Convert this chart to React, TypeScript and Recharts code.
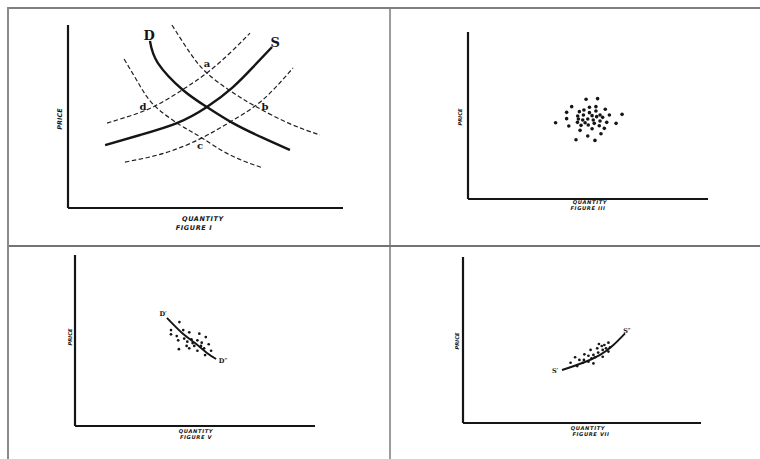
import React from 'react';
import { ComposedChart, Line, Scatter, XAxis, YAxis } from 'recharts';

// ---------- Figure I : shifting demand and supply ----------
const fig1Demand = [
  { x: 29.8, y: 91.3 }, { x: 32.7, y: 79.2 }, { x: 41.8, y: 64.5 }, { x: 50.5, y: 55.2 },
  { x: 60, y: 46.4 }, { x: 70.9, y: 38.3 }, { x: 80.7, y: 31.7 },
];
const fig1Supply = [
  { x: 13.5, y: 34.4 }, { x: 26.2, y: 39.9 }, { x: 39.6, y: 46.4 }, { x: 50.5, y: 55.2 },
  { x: 60, y: 66.1 }, { x: 67.3, y: 77 }, { x: 74.2, y: 88 },
];
const fig1DemandHigh = [
  { x: 37.8, y: 100 }, { x: 44.4, y: 84.7 }, { x: 50.5, y: 73.8 }, { x: 59, y: 64 },
  { x: 68, y: 55.7 }, { x: 80, y: 46.5 }, { x: 91.6, y: 39.9 },
];
const fig1DemandLow = [
  { x: 20.4, y: 81.4 }, { x: 26.2, y: 66.7 }, { x: 31.6, y: 55.7 }, { x: 40.7, y: 45.4 },
  { x: 48.7, y: 38.3 }, { x: 58.9, y: 29 }, { x: 70.9, y: 21.9 },
];
const fig1SupplyHigh = [
  { x: 14.2, y: 46.4 }, { x: 22.5, y: 50.3 }, { x: 31.6, y: 55.7 }, { x: 41.5, y: 64.5 },
  { x: 50.5, y: 73.8 }, { x: 58.9, y: 84.7 }, { x: 66.2, y: 95.6 },
];
const fig1SupplyLow = [
  { x: 20.7, y: 25.1 }, { x: 35.3, y: 30.1 }, { x: 48.7, y: 38.3 }, { x: 58.9, y: 47 },
  { x: 68, y: 55.7 }, { x: 75.3, y: 65.6 }, { x: 81.8, y: 76.5 },
];
const fig1BigLabels = [
  { x: 29.5, y: 94, t: 'D' },
  { x: 75.3, y: 90.7, t: 'S' },
];
const fig1SmallLabels = [
  { x: 50.5, y: 78.7, t: 'a' },
  { x: 71.6, y: 55.7, t: 'b' },
  { x: 48, y: 33.9, t: 'c' },
  { x: 27.3, y: 55.7, t: 'd' },
];

// ---------- Figure III : scattered observations ----------
const fig3Points = [
  { x: 49.2, y: 59.7 }, { x: 54.0, y: 60.1 }, { x: 43.2, y: 55.3 }, { x: 50.6, y: 54.9 },
  { x: 53.3, y: 55.3 }, { x: 41.1, y: 51.9 }, { x: 46.4, y: 52.3 }, { x: 48.3, y: 53.3 },
  { x: 50.6, y: 51.7 }, { x: 53.3, y: 52.7 }, { x: 57.2, y: 53.7 }, { x: 58.9, y: 50.3 },
  { x: 64.2, y: 50.7 }, { x: 45.7, y: 49.7 }, { x: 48.1, y: 50.3 }, { x: 51.7, y: 49.9 },
  { x: 53.6, y: 49.3 }, { x: 55, y: 50.3 }, { x: 56.1, y: 48.9 }, { x: 41.1, y: 48.1 },
  { x: 46, y: 47.9 }, { x: 47.8, y: 47.3 }, { x: 49.9, y: 47.9 }, { x: 52.2, y: 47.3 },
  { x: 45.6, y: 45.9 }, { x: 48.8, y: 45.7 }, { x: 50.1, y: 44.3 }, { x: 52.6, y: 45.3 },
  { x: 55, y: 46.7 }, { x: 57.8, y: 45.9 }, { x: 61.7, y: 45.3 }, { x: 36.5, y: 45.7 },
  { x: 42, y: 43.7 }, { x: 47.1, y: 44.1 }, { x: 51.7, y: 42.1 }, { x: 54.7, y: 43.9 },
  { x: 56.8, y: 42.3 }, { x: 46.7, y: 41.1 }, { x: 49.9, y: 37.7 }, { x: 55.4, y: 39.1 },
  { x: 45, y: 35.5 }, { x: 52.9, y: 35.1 },
];

// ---------- Figure V : demand curve fitted to points ----------
const fig5Curve = [
  { x: 38.3, y: 63.2 }, { x: 44.6, y: 54.4 }, { x: 50, y: 48.5 }, { x: 55, y: 42.7 }, { x: 58.8, y: 39.2 },
];
const fig5Points = [
  { x: 43.5, y: 60.8 }, { x: 40, y: 56.1 }, { x: 45.1, y: 56.1 }, { x: 47.6, y: 54.8 },
  { x: 51.8, y: 54 }, { x: 40, y: 53.6 }, { x: 42.4, y: 52.6 }, { x: 45.5, y: 51.1 },
  { x: 43, y: 50.1 }, { x: 48.5, y: 50.7 }, { x: 51, y: 50.1 }, { x: 54.5, y: 52 },
  { x: 46.8, y: 49.3 }, { x: 49, y: 48.5 }, { x: 52.8, y: 48.7 }, { x: 55.7, y: 47.8 },
  { x: 46.5, y: 46.8 }, { x: 49.7, y: 46.8 }, { x: 52.5, y: 46.8 }, { x: 53.8, y: 45.4 },
  { x: 43.3, y: 44.9 }, { x: 47.6, y: 45.4 }, { x: 51, y: 44 }, { x: 56.7, y: 44 },
  { x: 54.2, y: 41.5 },
];
const fig5Labels = [
  { x: 36.7, y: 65.5, t: 'D′' },
  { x: 61.7, y: 38, t: 'D″' },
];

// ---------- Figure VII : supply curve fitted to points ----------
const fig7Curve = [
  { x: 41.6, y: 31.9 }, { x: 50.5, y: 36.3 }, { x: 57.6, y: 41 }, { x: 63.2, y: 47 }, { x: 68.1, y: 54 },
];
const fig7Points = [
  { x: 57.1, y: 47.6 }, { x: 47.1, y: 39.6 }, { x: 53.6, y: 44 }, { x: 51, y: 41.4 },
  { x: 45.2, y: 36.3 }, { x: 48.9, y: 38 }, { x: 52.7, y: 40.5 }, { x: 54.8, y: 41 },
  { x: 56.4, y: 45 }, { x: 58.3, y: 46.4 }, { x: 59.4, y: 47 }, { x: 61.1, y: 48.4 },
  { x: 61.8, y: 45.6 }, { x: 58.7, y: 44 }, { x: 56.8, y: 42.4 }, { x: 55.5, y: 39.6 },
  { x: 58.7, y: 39.9 }, { x: 61.1, y: 43 }, { x: 50.3, y: 36.3 }, { x: 52.7, y: 36.9 },
  { x: 54.8, y: 35.9 }, { x: 48, y: 34.3 }, { x: 50.8, y: 38 }, { x: 54, y: 39 },
  { x: 60.1, y: 45 },
];
const fig7Labels = [
  { x: 38.7, y: 31.3, t: 'S′' },
  { x: 68.9, y: 55.4, t: 'S″' },
];

const axisTitles = {
  price: 'PRICE',
  quantity: 'QUANTITY',
  fig1: 'FIGURE I',
  fig3: 'FIGURE III',
  fig5: 'FIGURE V',
  fig7: 'FIGURE VII',
};

const INK = '#151515';
const TITLE_FONT = '"DejaVu Sans", sans-serif';

const dot = (r: number) => (p: any) => <circle cx={p.cx} cy={p.cy} r={r} fill={INK} />;

const textShape = (size: number, family: string, weight: string) => (p: any) => (
  <text
    x={p.cx}
    y={p.cy}
    textAnchor="middle"
    dominantBaseline="central"
    fontSize={size}
    fontFamily={family}
    fontWeight={weight}
    fill={INK}
  >
    {p.payload ? p.payload.t : p.t}
  </text>
);

type TitleSpec = {
  price: [number, number];
  qty: [number, number];
  fig: [number, number];
  figText: string;
  size: number;
};

const Frame = ({ width, height, margin, titles, children }: any) => {
  const t: TitleSpec = titles;
  return (
    <ComposedChart width={width} height={height} margin={margin}>
      <XAxis
        type="number"
        dataKey="x"
        domain={[0, 100]}
        allowDataOverflow
        height={1}
        tick={false}
        tickLine={false}
        axisLine={{ stroke: INK, strokeWidth: 2.2 }}
        label={{
          content: () => (
            <g>
              <text x={t.qty[0]} y={t.qty[1]} textAnchor="middle" dominantBaseline="central"
                fontSize={t.size} fontFamily={TITLE_FONT} fontWeight="bold" fontStyle="italic"
                letterSpacing={0.6} fill={INK}>{axisTitles.quantity}</text>
              <text x={t.fig[0]} y={t.fig[1]} textAnchor="middle" dominantBaseline="central"
                fontSize={t.size} fontFamily={TITLE_FONT} fontWeight="bold" fontStyle="italic"
                letterSpacing={0.6} fill={INK}>{t.figText}</text>
            </g>
          ),
        }}
      />
      <YAxis
        type="number"
        dataKey="y"
        domain={[0, 100]}
        allowDataOverflow
        width={1}
        tick={false}
        tickLine={false}
        axisLine={{ stroke: INK, strokeWidth: 2.2 }}
        label={{
          content: () => (
            <text x={t.price[0]} y={t.price[1]} textAnchor="middle" dominantBaseline="central"
              fontSize={t.size} fontFamily={TITLE_FONT} fontWeight="bold" fontStyle="italic"
              transform={`rotate(-90 ${t.price[0]} ${t.price[1]})`} fill={INK}>{axisTitles.price}</text>
          ),
        }}
      />
      {children}
    </ComposedChart>
  );
};

const dashed = { stroke: '#202020', strokeWidth: 1.2, strokeDasharray: '4.5 2.5' };

export default function App() {
  return (
    <div style={{ position: 'absolute', left: 0, top: 0, width: 760, height: 459, background: '#fff', overflow: 'hidden' }}>
      {/* frame lines */}
      <div style={{ position: 'absolute', left: 7, top: 7, width: 753, height: 2, background: '#7f7f7f' }} />
      <div style={{ position: 'absolute', left: 7, top: 7, width: 2, height: 452, background: '#8a8a8a' }} />
      <div style={{ position: 'absolute', left: 389, top: 9, width: 2, height: 450, background: '#9c9c9c' }} />
      <div style={{ position: 'absolute', left: 9, top: 245, width: 751, height: 2, background: '#747474' }} />

      {/* Figure I */}
      <div style={{ position: 'absolute', left: 0, top: 0 }}>
        <Frame
          width={390}
          height={245}
          margin={{ left: 67, right: 47, top: 25, bottom: 36 }}
          titles={{ price: [60, 119], qty: [203, 219], fig: [194, 228], figText: axisTitles.fig1, size: 6.5 }}
        >
          <Line data={fig1DemandHigh} dataKey="y" type="natural" dot={false} isAnimationActive={false} {...dashed} />
          <Line data={fig1DemandLow} dataKey="y" type="natural" dot={false} isAnimationActive={false} {...dashed} />
          <Line data={fig1SupplyHigh} dataKey="y" type="natural" dot={false} isAnimationActive={false} {...dashed} />
          <Line data={fig1SupplyLow} dataKey="y" type="natural" dot={false} isAnimationActive={false} {...dashed} />
          <Line data={fig1Demand} dataKey="y" type="natural" dot={false} isAnimationActive={false} stroke={INK} strokeWidth={2.4} />
          <Line data={fig1Supply} dataKey="y" type="natural" dot={false} isAnimationActive={false} stroke={INK} strokeWidth={2.4} />
          <Scatter data={fig1BigLabels} dataKey="y" isAnimationActive={false} shape={textShape(13, '"DejaVu Serif", serif', 'bold')} />
          <Scatter data={fig1SmallLabels} dataKey="y" isAnimationActive={false} shape={textShape(10, '"DejaVu Serif", serif', 'bold')} />
        </Frame>
      </div>

      {/* Figure III */}
      <div style={{ position: 'absolute', left: 390, top: 0 }}>
        <Frame
          width={370}
          height={245}
          margin={{ left: 77, right: 52, top: 32, bottom: 45 }}
          titles={{ price: [70, 117], qty: [200, 202], fig: [198, 208], figText: axisTitles.fig3, size: 5.2 }}
        >
          <Scatter data={fig3Points} dataKey="y" isAnimationActive={false} shape={dot(1.8)} />
        </Frame>
      </div>

      {/* Figure V */}
      <div style={{ position: 'absolute', left: 0, top: 245 }}>
        <Frame
          width={390}
          height={214}
          margin={{ left: 74, right: 75, top: 10, bottom: 32 }}
          titles={{ price: [70, 92], qty: [196, 186], fig: [196, 192], figText: axisTitles.fig5, size: 5.2 }}
        >
          <Line data={fig5Curve} dataKey="y" type="natural" dot={false} isAnimationActive={false} stroke={INK} strokeWidth={1.9} />
          <Scatter data={fig5Points} dataKey="y" isAnimationActive={false} shape={dot(1.35)} />
          <Scatter data={fig5Labels} dataKey="y" isAnimationActive={false} shape={textShape(6.5, '"DejaVu Serif", serif', 'bold')} />
        </Frame>
      </div>

      {/* Figure VII */}
      <div style={{ position: 'absolute', left: 390, top: 245 }}>
        <Frame
          width={370}
          height={214}
          margin={{ left: 72, right: 59, top: 12, bottom: 35 }}
          titles={{ price: [67, 96], qty: [198, 183], fig: [201, 189], figText: axisTitles.fig7, size: 5.2 }}
        >
          <Line data={fig7Curve} dataKey="y" type="natural" dot={false} isAnimationActive={false} stroke={INK} strokeWidth={1.9} />
          <Scatter data={fig7Points} dataKey="y" isAnimationActive={false} shape={dot(1.35)} />
          <Scatter data={fig7Labels} dataKey="y" isAnimationActive={false} shape={textShape(6.5, '"DejaVu Serif", serif', 'bold')} />
        </Frame>
      </div>
    </div>
  );
}
